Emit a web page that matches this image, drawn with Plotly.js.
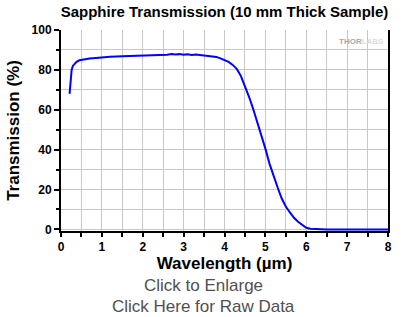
<!DOCTYPE html>
<html>
<head>
<meta charset="utf-8">
<script src="https://cdn.plot.ly/plotly-3.0.1.min.js"></script>
<style>html,body{margin:0;padding:0;background:#fff;}#chart{width:403px;height:317px;}</style>
</head>
<body>
<div id="chart"></div>
<script>
const wavelength = [0.21, 0.22, 0.24, 0.26, 0.29, 0.33, 0.38, 0.45, 0.55, 0.7, 0.85, 1.0, 1.2, 1.5, 1.8, 2.0, 2.2, 2.4, 2.5, 2.6, 2.7, 2.8, 2.9, 3.0, 3.1, 3.2, 3.3, 3.4, 3.5, 3.6, 3.7, 3.8, 3.9, 4.0, 4.1, 4.2, 4.3, 4.4, 4.5, 4.6, 4.7, 4.8, 4.9, 5.0, 5.1, 5.2, 5.3, 5.4, 5.5, 5.6, 5.7, 5.8, 5.9, 6.0, 6.1, 6.3, 6.5, 7.0, 7.5, 8.0];
const transmission = [68, 71, 77, 80, 82, 83, 84, 84.8, 85.3, 85.7, 86, 86.4, 86.6, 86.8, 87, 87.2, 87.3, 87.5, 87.8, 87.6, 88, 87.7, 87.9, 87.6, 87.8, 87.5, 87.7, 87.5, 87.4, 87.2, 87, 86.5, 85.8, 85, 84, 82.5, 80.5, 77, 72, 66.5, 60.5, 54, 47.5, 40.5, 33, 26.5, 21, 15.5, 11.5, 8.5, 5.8, 3.8, 2.2, 0.8, 0.3, 0.1, 0, 0, 0, 0];
const titleText = "Sapphire Transmission (10 mm Thick Sample)";
const xTitle = "Wavelength (µm)";
const yTitle = "Transmission (%)";

const gridColor = "#c8c8c8";
const trace = {
  x: wavelength, y: transmission, type: "scatter", mode: "lines",
  line: {color: "#0000ff", width: 2}, hoverinfo: "x+y"
};
const layout = {
  width: 403, height: 317,
  margin: {l: 61, r: 15, t: 30, b: 86},
  paper_bgcolor: "#fff", plot_bgcolor: "#fff",
  showlegend: false,
  font: {family: "Liberation Sans, Arial, sans-serif", color: "#000"},
  title: {text: "<b>" + titleText + "</b>", font: {size: 15, color: "#000"},
          xref: "paper", x: 0.5, xanchor: "center", yref: "container", y: 0.962, yanchor: "middle"},
  xaxis: {
    range: [0, 8], dtick: 1, tick0: 0,
    showline: true, linecolor: "#000", linewidth: 2, mirror: false,
    ticks: "outside", ticklen: 4, tickwidth: 2, tickcolor: "#000",
    tickfont: {size: 12, color: "#000", family: "Liberation Sans, Arial, sans-serif", weight: "bold"},
    showgrid: true, gridcolor: gridColor, gridwidth: 1, zeroline: false,
    minor: {dtick: 0.5, ticks: "outside", ticklen: 4, tickwidth: 2, tickcolor: "#000", showgrid: true, gridcolor: gridColor, gridwidth: 1},
    title: {text: "<b>" + xTitle + "</b>", font: {size: 17, color: "#000"}, standoff: 3},
    automargin: false
  },
  yaxis: {
    range: [-0.8, 100], dtick: 20, tick0: 0,
    showline: true, linecolor: "#000", linewidth: 2, mirror: true,
    ticks: "outside", ticklen: 5, tickwidth: 2, tickcolor: "#000",
    tickfont: {size: 12, color: "#000", family: "Liberation Sans, Arial, sans-serif", weight: "bold"},
    showgrid: true, gridcolor: gridColor, gridwidth: 1, zeroline: false,
    minor: {dtick: 10, ticks: "outside", ticklen: 3, tickwidth: 2, tickcolor: "#000", showgrid: true, gridcolor: gridColor, gridwidth: 1},
    title: {text: "<b>" + yTitle + "</b>", font: {size: 17, color: "#000"}, standoff: 8},
    automargin: false
  },
  annotations: [
    {text: "<b>THOR</b><span style='color:#dcdcdc'><b>LABS</b></span>", xref: "paper", yref: "paper",
     x: 0.995, y: 0.945, xanchor: "right", yanchor: "middle", showarrow: false,
     font: {size: 8, color: "#a8a8a8"}},
    {text: "Click to Enlarge", xref: "paper", yref: "paper", x: (203 - 61) / 327, y: (231 - 285) / 201,
     xanchor: "center", yanchor: "middle", showarrow: false, font: {size: 17, color: "#505050"}},
    {text: "Click Here for Raw Data", xref: "paper", yref: "paper", x: (203 - 61) / 327, y: (231 - 306) / 201,
     xanchor: "center", yanchor: "middle", showarrow: false, font: {size: 17, color: "#505050"}}
  ]
};
Plotly.newPlot("chart", [trace], layout, {displayModeBar: false, staticPlot: true});
</script>
</body>
</html>
